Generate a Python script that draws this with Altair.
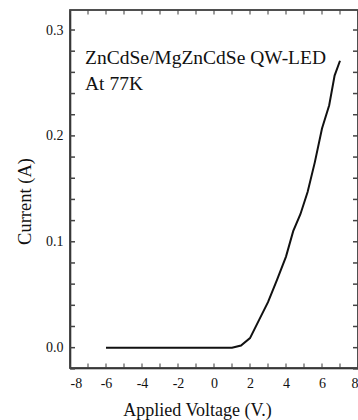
import altair as alt
import pandas as pd

# I-V curve
voltage = [-6.0, -3.0, 0.0, 1.0, 1.5, 2.0, 2.5, 3.0, 3.5, 4.0, 4.4, 4.8, 5.2, 5.6, 6.0, 6.4, 6.7, 7.0]
current = [0.0, 0.0, 0.0, 0.0, 0.002, 0.009, 0.026, 0.043, 0.064, 0.086, 0.110, 0.126, 0.147, 0.175, 0.207, 0.229, 0.257, 0.271]

x_major = [-8, -6, -4, -2, 0, 2, 4, 6, 8]
x_minor = [-7, -5, -3, -1, 1, 3, 5, 7]
y_major = [0.0, 0.1, 0.2, 0.3]
y_minor = [-0.02, 0.02, 0.04, 0.06, 0.08, 0.12, 0.14, 0.16, 0.18, 0.22, 0.24, 0.26, 0.28]

title_text = "ZnCdSe/MgZnCdSe QW-LED"
temp_text = "At 77K"
x_title = "Applied Voltage (V.)"
y_title = "Current  (A)"

W, H = 288, 358
FONT = "Liberation Serif"
INK = "#111111"
FRAME = "#444444"

xs = alt.Scale(domain=[-8, 8], nice=False, zero=False)
ys = alt.Scale(domain=[-0.0192, 0.3189], nice=False, zero=False)

x_axis = alt.Axis(
    values=x_major, labelExpr="'' + datum.value", ticks=False, labelPadding=8,
    labelOverlap=False, labelFont=FONT, labelFontSize=14, labelColor=INK,
    domainColor=INK, domainWidth=1.5, grid=False,
    title=x_title, titleFont=FONT, titleFontSize=18, titleFontWeight="normal",
    titleColor=INK, titleX=127, titleY=47, titleBaseline="alphabetic",
    titleAnchor="middle", titleAlign="center")
y_axis = alt.Axis(
    values=y_major, format=".1f", ticks=False, labelPadding=7,
    labelOverlap=False, labelFont=FONT, labelFontSize=14, labelColor=INK,
    domainColor=INK, domainWidth=1.5, grid=False,
    title=y_title, titleFont=FONT, titleFontSize=18.5, titleFontWeight="normal",
    titleColor=INK, titleX=-46, titleY=191, titleAngle=-90,
    titleBaseline="middle", titleAlign="center")

df = pd.DataFrame({"V": voltage, "I": current})

line = alt.Chart(df).mark_line(color=INK, strokeWidth=2).encode(
    x=alt.X("V:Q", scale=xs, axis=x_axis),
    y=alt.Y("I:Q", scale=ys, axis=y_axis),
)

xt = pd.DataFrame({"v": x_major + x_minor})
yt = pd.DataFrame({"v": y_major + y_minor})

bottom_ticks = alt.Chart(xt).mark_tick(color=FRAME, thickness=1.5, size=9, orient="vertical", clip=True).encode(
    x=alt.X("v:Q", scale=xs, axis=x_axis), y=alt.value(H))
top_ticks = alt.Chart(xt).mark_tick(color=FRAME, thickness=1.5, size=9, orient="vertical", clip=True).encode(
    x=alt.X("v:Q", scale=xs, axis=x_axis), y=alt.value(0))
left_ticks = alt.Chart(yt).mark_rule(color=FRAME, strokeWidth=1.5).encode(
    y=alt.Y("v:Q", scale=ys, axis=y_axis), x=alt.value(0), x2=alt.value(5))
right_ticks = alt.Chart(yt).mark_rule(color=FRAME, strokeWidth=1.5).encode(
    y=alt.Y("v:Q", scale=ys, axis=y_axis), x=alt.value(W - 5), x2=alt.value(W))

frame = alt.Chart(pd.DataFrame({"t": [title_text]})).mark_rect(
    fill="transparent", stroke=FRAME, strokeWidth=1.5
).encode(x=alt.value(0), x2=alt.value(W), y=alt.value(0), y2=alt.value(H))

label1 = alt.Chart(pd.DataFrame({"t": [title_text]})).mark_text(
    font=FONT, fontSize=19.5, color=INK, align="left", baseline="alphabetic"
).encode(text="t:N", x=alt.value(15), y=alt.value(54))
label2 = alt.Chart(pd.DataFrame({"t": [temp_text]})).mark_text(
    font=FONT, fontSize=19.5, color=INK, align="left", baseline="alphabetic"
).encode(text="t:N", x=alt.value(15), y=alt.value(80))

chart = alt.layer(
    line, bottom_ticks, top_ticks, left_ticks, right_ticks, frame, label1, label2
).properties(
    width=W, height=H,
    autosize=alt.AutoSizeParams(type="none"),
    padding={"left": 70, "top": 10, "right": 0, "bottom": 52},
    background="white",
).configure_view(stroke=FRAME, strokeWidth=1.5)

chart.save("out.html", embed_options={"renderer": "svg", "actions": False})
